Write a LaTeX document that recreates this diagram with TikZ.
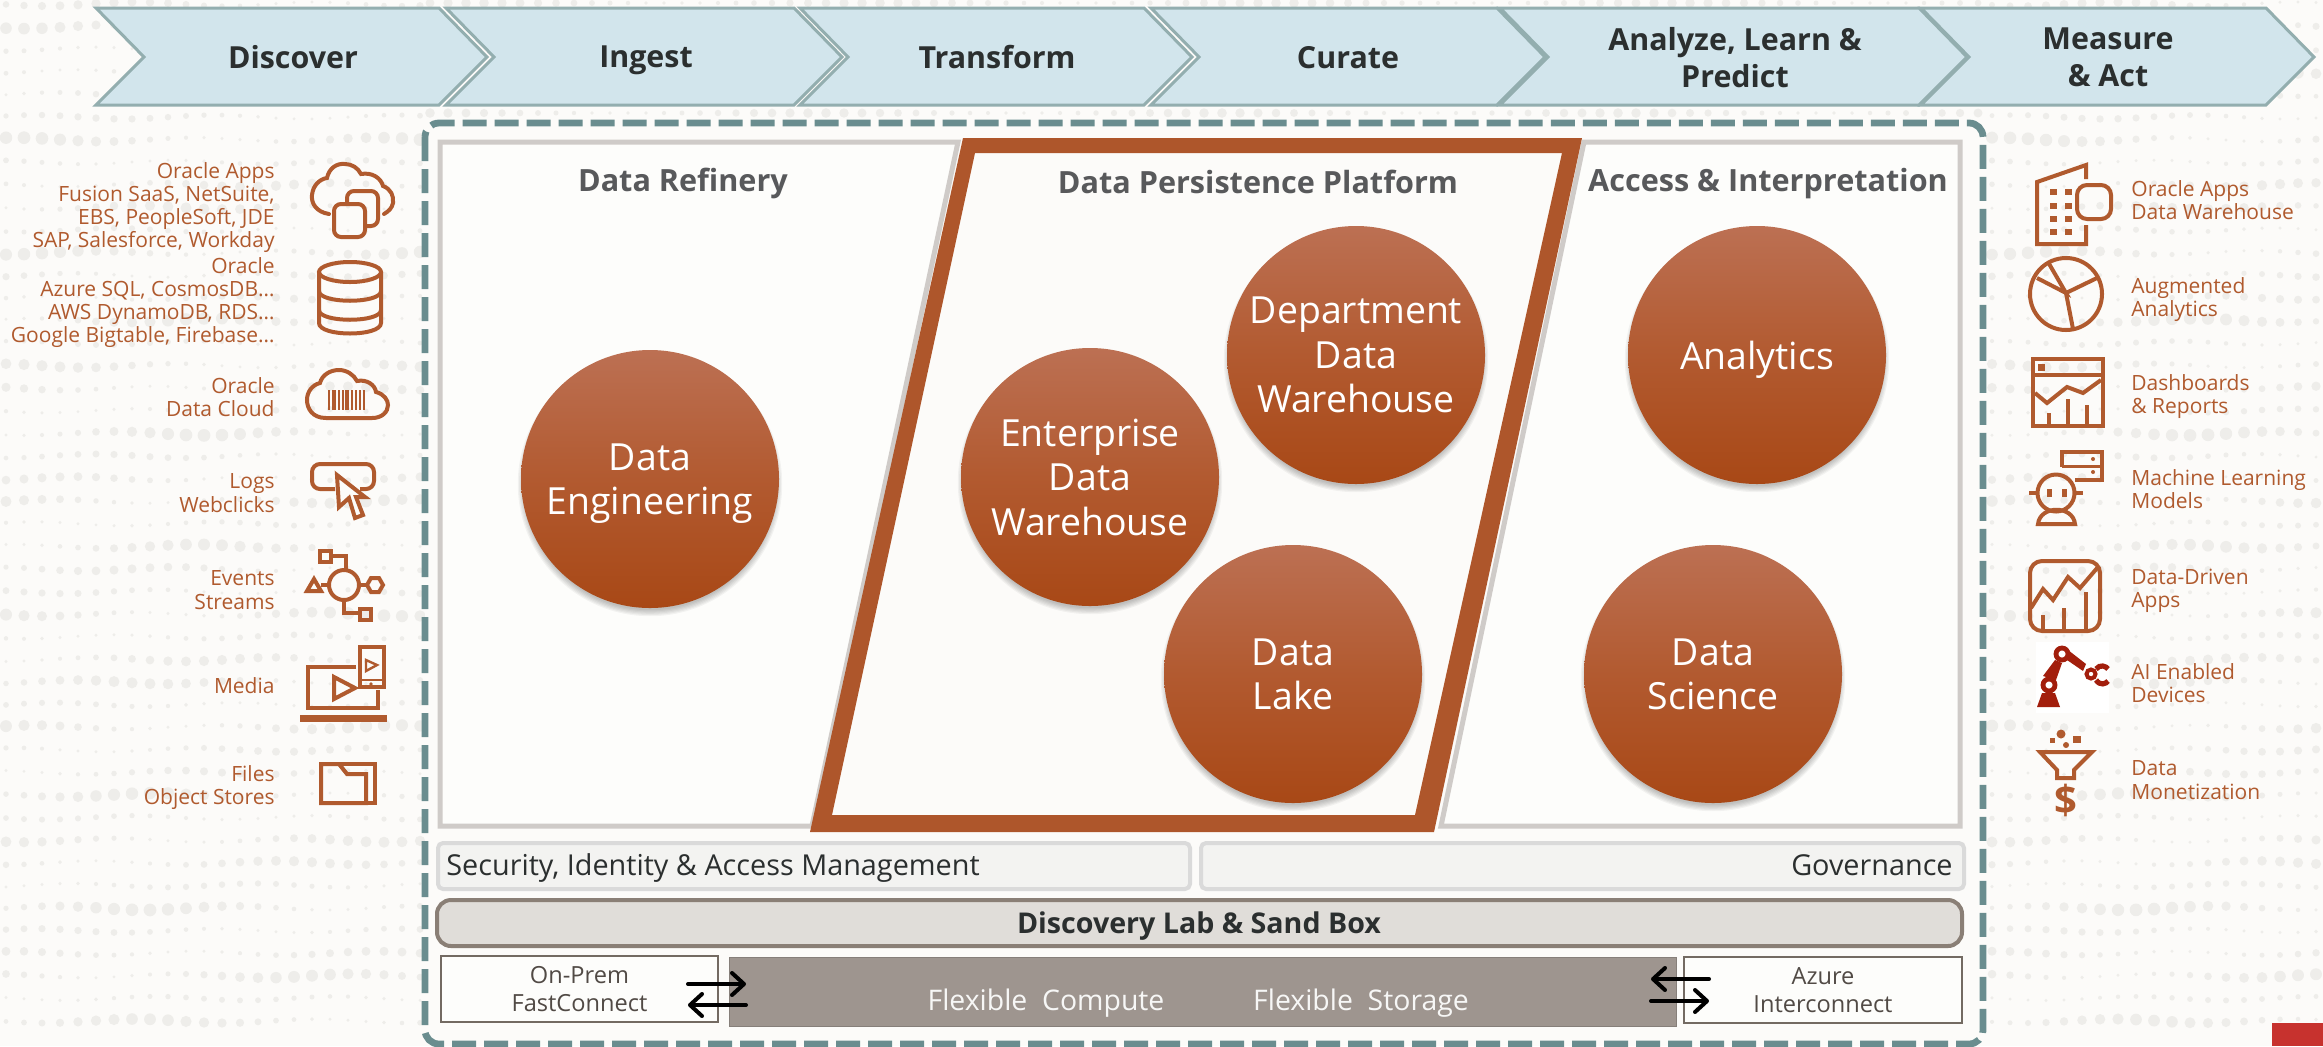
\documentclass[tikz,border=0pt]{standalone}
\usepackage{fontspec}
\setmainfont{Open Sans}
\usetikzlibrary{arrows.meta}
\definecolor{bgc}{HTML}{FCFBF9}
\definecolor{dotc}{HTML}{EEEDEA}
\definecolor{chevf}{HTML}{D2E5EC}
\definecolor{chevd}{HTML}{93AEAF}
\definecolor{inkd}{HTML}{2B2F2F}
\definecolor{teal}{HTML}{6A8D8F}
\definecolor{greyb}{HTML}{CFCBC8}
\definecolor{rust}{HTML}{AE562B}
\definecolor{titleg}{HTML}{58595B}
\definecolor{labelc}{HTML}{B05A2E}
\definecolor{barf}{HTML}{F3F3F1}
\definecolor{bard}{HTML}{DADADA}
\definecolor{labf}{HTML}{E0DDD9}
\definecolor{labd}{HTML}{8A7F76}
\definecolor{compf}{HTML}{9E958F}
\definecolor{boxd}{HTML}{736A62}
\definecolor{robot}{HTML}{A21E0C}
\definecolor{oracle}{HTML}{C7322E}
\definecolor{bb}{HTML}{BC7053}
\definecolor{bm}{HTML}{B25A30}
\definecolor{bc}{HTML}{A84816}
\newcommand{\fsz}[2]{\fontsize{#1}{#2}\selectfont}
\tikzset{
  chevron/.style={fill=chevf,draw=chevd,line width=1.5pt,line join=miter},
  chevtext/.style={font=\fsz{15.2}{18.5}\bfseries,text=inkd,align=center,inner sep=0pt,text depth=0pt},
  leftlabel/.style={font=\fsz{10.5}{11.6},text=labelc,align=right,anchor=east,inner sep=0pt,text depth=0pt},
  rightlabel/.style={font=\fsz{10.5}{11.6},text=labelc,align=left,anchor=west,inner sep=0pt,text depth=0pt},
  paneltitle/.style={font=\fsz{15.3}{17}\bfseries,text=titleg,inner sep=0pt,text depth=0pt},
  panel/.style={fill=white!40!bgc,draw=greyb,line width=2.5pt,line join=miter},
  ball/.style={circle,minimum size=129pt,inner sep=0pt,top color=bb,bottom color=bc,middle color=bm,
    text=white,align=center,font=\fsz{18.7}{22.2},text depth=0pt},
  barbox/.style={fill=barf,draw=bard,line width=2pt,rounded corners=2.5pt},
  bartext/.style={font=\fsz{14.4}{16},text=inkd,inner sep=0pt,text depth=0pt},
  linkbox/.style={fill=white!40!bgc,draw=boxd,line width=1.25pt,align=center,text=boxd!70!black,
    font=\fsz{11.8}{14},inner sep=0pt},
  flow/.style={line width=2pt,line cap=round,draw=black,-{Straight Barb[length=6pt,width=11pt,line width=2pt,round]}},
  ico/.style={draw=labelc,line width=2pt,line join=miter},
}
\newcommand{\ballat}[4]{%
  \foreach \i in {1,...,6}{\fill[black,opacity=.045] (#2,#3+5) circle[radius=125+\i*1.2];}
  \node[ball] (#1) at (#2,#3) {#4};}
\begin{document}
\begin{tikzpicture}[x=0.5pt,y=-0.5pt]
\useasboundingbox (0,0) rectangle (2323,1046);
\fill[bgc] (0,0) rectangle (2323,1046);
% background texture
\foreach \r in {0,...,45}{
  \pgfmathsetmacro\yy{4+22.6*\r}
  \pgfmathsetmacro\amp{1.4+1.7*(1+sin(\r*137))}
  \foreach \x in {6,24,...,420}{
    \pgfmathsetmacro\rad{1.6+\amp*(0.5+0.5*sin(\x*0.9+\r*71))}
    \pgfmathsetmacro\dy{\yy+2*sin(\x*2+\r*40)}
    \fill[dotc] (\x,\dy) circle[radius=\rad];
  }
  \foreach \x in {1992,2010,...,2322}{
    \pgfmathsetmacro\rad{1.6+\amp*(0.5+0.5*sin(\x*0.9+\r*71))}
    \pgfmathsetmacro\dy{\yy+2*sin(\x*2+\r*40)}
    \fill[dotc] (\x,\dy) circle[radius=\rad];
  }
}
\foreach \yy in {3,113}{
  \foreach \x in {430,448,...,1990}{
    \pgfmathsetmacro\rad{1.8+3*(0.5+0.5*sin(\x*0.9+\yy*7))}
    \fill[dotc] (\x,\yy) circle[radius=\rad];
  }
}
\fill[oracle] (2272,1023) rectangle (2323,1046);
% chevrons
\draw[chevron] (1921,8) -- (2266,8) -- (2314,57) -- (2266,105) -- (1921,105) -- (1969,57) -- cycle;
\draw[chevron] (1500,8) -- (1919,8) -- (1967,57) -- (1919,105) -- (1500,105) -- (1548,57) -- cycle;
\draw[chevron] (1151,8) -- (1497,8) -- (1545,57) -- (1497,105) -- (1151,105) -- (1199,57) -- cycle;
\draw[chevron] (800,8) -- (1144,8) -- (1192,57) -- (1144,105) -- (800,105) -- (848,57) -- cycle;
\draw[chevron] (446,8) -- (794,8) -- (842,57) -- (794,105) -- (446,105) -- (494,57) -- cycle;
\draw[chevron] (96,8) -- (439,8) -- (487,57) -- (439,105) -- (96,105) -- (144,57) -- cycle;
\node[chevtext] (cDiscover) at (293,57) {Discover};
\node[chevtext] (cIngest) at (646,57) {Ingest};
\node[chevtext] (cTransform) at (997,57) {Transform};
\node[chevtext] (cCurate) at (1348,57) {Curate};
\node[chevtext] (cAnalyze) at (1735,57) {Analyze, Learn \&\\Predict};
\node[chevtext] (cMeasure) at (2108,57) {Measure\\\& Act};
% dashed frame
\draw[fill=bgc,draw=teal,line width=3.4pt,rounded corners=7pt,dash pattern=on 12pt off 4pt]
  (425,123) rectangle (1983,1044);
% panels
\draw[panel] (440,142) -- (958,142) -- (812,826) -- (440,826) -- cycle;
\draw[panel] (1584,142) -- (1960,142) -- (1960,826) -- (1441,826) -- cycle;
\fill[rust,even odd rule] (963,138) -- (1582,138) -- (1434,832) -- (810,832) -- cycle
  (975,153) -- (1562,153) -- (1415,815) -- (832,815) -- cycle;
\node[paneltitle] (tRefinery) at (683,180) {Data Refinery};
\node[paneltitle] (tPersist) at (1258,182) {Data Persistence Platform};
\node[paneltitle] (tAccess) at (1768,180) {Access \& Interpretation};
% balls
\ballat{bEng}{650}{479}{Data\\Engineering}
\ballat{bDept}{1356}{355}{Department\\Data\\Warehouse}
\ballat{bEnt}{1090}{477}{Enterprise\\Data\\Warehouse}
\ballat{bLake}{1293}{674}{Data\\Lake}
\ballat{bAna}{1757}{355}{Analytics}
\ballat{bSci}{1713}{674}{Data\\Science}
% bars
\draw[barbox] (438,843) rectangle (1190,889);
\draw[barbox] (1201,843) rectangle (1964,889);
\node[bartext,anchor=west] (tSec) at (446,865) {Security, Identity \& Access Management};
\node[bartext,anchor=east] (tGov) at (1953,865) {Governance};
\draw[fill=labf,draw=labd,line width=2pt,rounded corners=7pt] (437,900) rectangle (1962,946);
\node[font=\fsz{14.3}{16}\bfseries,text=inkd,inner sep=0pt,text depth=0pt] (tLab) at (1199,923) {Discovery Lab \& Sand Box};
\node[fill=compf,draw=compf!85!black,line width=.5pt,minimum width=473.5pt,minimum height=34.5pt,inner sep=0pt] (compute) at (1202.5,991.5) {};
\node[font=\fsz{14.2}{16},text=white!92!compf,inner sep=0pt,text depth=0pt] (tComp) at (1046,1000) {Flexible\ \ Compute};
\node[font=\fsz{14.2}{16},text=white!92!compf,inner sep=0pt,text depth=0pt] (tStor) at (1361,1000) {Flexible\ \ Storage};
\node[linkbox,minimum width=138.5pt,minimum height=33pt] (onprem) at (579.5,989) {On-Prem\\FastConnect};
\node[linkbox,minimum width=139pt,minimum height=33pt] (azure) at (1823,990) {Azure\\Interconnect};
\coordinate (a1) at (688,984); \coordinate (a2) at (746,984);
\coordinate (a3) at (746,1005); \coordinate (a4) at (688,1005);
\coordinate (a5) at (1709,979); \coordinate (a6) at (1651,979);
\coordinate (a7) at (1651,1001); \coordinate (a8) at (1709,1001);
\draw[flow] (a1) -- (a2);
\draw[flow] (a3) -- (a4);
\draw[flow] (a5) -- (a6);
\draw[flow] (a7) -- (a8);
% left labels
\node[leftlabel] (l1) at (275,205) {Oracle Apps\\Fusion SaaS, NetSuite,\\EBS, PeopleSoft, JDE\\SAP, Salesforce, Workday};
\node[leftlabel] (l2) at (275,300) {Oracle\\Azure SQL, CosmosDB\dots\\AWS DynamoDB, RDS\dots\\Google Bigtable, Firebase\dots};
\node[leftlabel] (l3) at (275,397) {Oracle\\Data Cloud};
\node[leftlabel] (l4) at (275,493) {Logs\\Webclicks};
\node[leftlabel] (l5) at (275,590) {Events\\Streams};
\node[leftlabel] (l6) at (275,686) {Media};
\node[leftlabel] (l7) at (275,785) {Files\\Object Stores};
% right labels
\node[rightlabel] (r1) at (2131,200) {Oracle Apps\\Data Warehouse};
\node[rightlabel] (r2) at (2131,297) {Augmented\\Analytics};
\node[rightlabel] (r3) at (2131,394) {Dashboards\\\& Reports};
\node[rightlabel] (r4) at (2131,489) {Machine Learning\\Models};
\node[rightlabel] (r5) at (2131,588) {Data-Driven\\Apps};
\node[rightlabel] (r6) at (2131,683) {AI Enabled\\Devices};
\node[rightlabel] (r7) at (2131,780) {Data\\Monetization};
% icon: cloud with pages
\draw[ico,line cap=round] (329,214) .. controls (316,212) and (311,203) .. (312,195) .. controls (313,185) and (320,179) .. (327,178) .. controls (329,168) and (337,163) .. (345,164) .. controls (352,164) and (358,168) .. (361,174) .. controls (372,172) and (381,178) .. (383,186) .. controls (391,189) and (394,196) .. (393,203) .. controls (392,208) and (389,211) .. (384,214);
\draw[ico,rounded corners=3.5pt] (347,203) -- (347,191) -- (378,191) -- (378,226) -- (366,226);
\draw[ico,rounded corners=3.5pt,fill=none] (334,204) rectangle (365,237);
% icon: database
\draw[ico] (350,272) circle[x radius=31,y radius=10];
\draw[ico] (319,272) -- (319,323) .. controls (319,337) and (381,337) .. (381,323) -- (381,272);
\draw[ico] (319,291) .. controls (319,304) and (381,304) .. (381,291);
\draw[ico] (319,310) .. controls (319,323) and (381,323) .. (381,310);
% icon: cloud with barcode
\draw[ico] (326,418) .. controls (312,418) and (307,408) .. (307,400) .. controls (307,392) and (312,385) .. (320,383) .. controls (322,375) and (330,370) .. (339,370) .. controls (347,370) and (354,375) .. (357,381) .. controls (367,379) and (375,385) .. (376,392) .. controls (384,394) and (388,400) .. (388,405) .. controls (388,412) and (382,418) .. (372,418) -- cycle;
\foreach \bx/\bw in {329/1,334/2,339/.8,343/.8,347/1.6,352/.8,356/.8,360/1.2,364/1}{
  \draw[labelc,line width=\bw pt] (\bx,390) -- (\bx,410);}
% icon: screen with cursor
\draw[ico,rounded corners=4pt] (335,489) -- (312,489) -- (312,464) -- (374,464) -- (374,489) -- (360,489);
\draw[ico,fill=bgc] (337,475) -- (339,507) -- (349,498) -- (355,518) -- (363,515) -- (356,497) -- (365,497) -- cycle;
% icon: event hub
\draw[ico] (344,585) circle[radius=15];
\draw[ico] (320,551) rectangle (331,562);
\draw[ico] (331,556) -- (346,556) -- (346,570);
\draw[ico] (307,591) -- (321,591) -- (314,579) -- cycle;
\draw[ico] (321,585) -- (329,585);
\draw[ico] (359,585) -- (367,585);
\draw[ico] (367,585) -- (371,578) -- (379,578) -- (383,585) -- (379,592) -- (371,592) -- cycle;
\draw[ico] (344,600) -- (344,613) -- (360,613);
\draw[ico] (360,609) rectangle (371,620);
% icon: media
\draw[ico] (356,667) -- (308,667) -- (308,708) -- (378,708) -- (378,690);
\fill[labelc] (300,715) rectangle (387,722);
\draw[ico] (334,677) -- (355,688) -- (334,699) -- cycle;
\draw[ico] (360,647) rectangle (384,687);
\draw[labelc,line width=1pt] (360,680) -- (384,680);
\fill[labelc] (371,684) circle[radius=1.8];
\draw[labelc,line width=1.2pt] (366,660) -- (377,665) -- (366,671) -- cycle;
% icon: folder
\draw[ico] (321,764) -- (339,764) -- (347,774) -- (366,774) -- (366,803) -- (321,803) -- cycle;
\draw[ico] (339,764) -- (375,764) -- (375,803) -- (366,803);
% icon: building
\draw[ico] (2086,179) -- (2086,165) -- (2037,182) -- (2037,244) -- (2086,244) -- (2086,225);
\draw[ico,rounded corners=5pt] (2077,185) rectangle (2111,219);
\foreach \wy in {189,203,216,229}{
  \fill[labelc] (2050,\wy) rectangle (2057,\wy+6);
  \fill[labelc] (2065,\wy) rectangle (2072,\wy+6);}
% icon: pie
\draw[ico] (2066,294) circle[radius=36];
\draw[ico] (2037,278) -- (2066,293) -- (2048,262);
\draw[ico] (2097,278) -- (2066,293) -- (2073,329);
% icon: dashboard
\draw[ico] (2033,359) rectangle (2103,426);
\draw[ico] (2033,375) -- (2103,375);
\fill[labelc] (2038,364) rectangle (2045,371);
\draw[ico] (2035,393) -- (2047,403) -- (2067,387) -- (2083,393) -- (2101,380);
\draw[ico] (2049,413) -- (2049,426);
\draw[ico] (2068,399) -- (2068,426);
\draw[ico] (2087,405) -- (2087,426);
% icon: machine learning
\draw[ico] (2056,493) circle[radius=18.5];
\draw[ico] (2029,493) -- (2037,493);
\draw[ico] (2076,493) -- (2083,493);
\fill[labelc] (2047,489) rectangle (2052,497);
\fill[labelc] (2062,489) rectangle (2067,497);
\draw[ico] (2038,524) -- (2075,524) .. controls (2073,505) and (2040,505) .. (2038,524) -- cycle;
\draw[ico] (2062,467) -- (2062,452) -- (2102,452) -- (2102,480) -- (2075,480);
\draw[ico,line width=1.5pt] (2062,466) -- (2102,466);
\fill[labelc] (2093,459) circle[radius=2];
\fill[labelc] (2093,472) circle[radius=2];
% icon: data driven apps
\draw[ico,rounded corners=6pt] (2030,561) rectangle (2100,631);
\draw[ico] (2031,608) -- (2043,589) -- (2053,600) -- (2068,577) -- (2080,588) -- (2098,567);
\draw[ico] (2043,615) -- (2043,631);
\draw[ico] (2064,608) -- (2064,631);
\draw[ico] (2086,592) -- (2086,631);
% icon: robot arm
\fill[white] (2036,642) rectangle (2109,713);
\fill[robot] (2037,707) -- (2060,707) -- (2055,693) -- (2042,693) -- cycle;
\fill[robot] (2043,676) -- (2055,660) -- (2062,663) -- (2056,680) -- cycle;
\fill[robot] (2068,650) -- (2086,664) -- (2083,671) -- (2067,660) -- cycle;
\draw[robot,line width=2.4pt,fill=white] (2049,685) circle[radius=6];
\draw[robot,line width=2.4pt,fill=white] (2062,654) circle[radius=6];
\draw[robot,line width=2pt,fill=white] (2091,674) circle[radius=4.5];
\draw[robot,line width=2.6pt] (2096,669) .. controls (2100,664) and (2106,666) .. (2108,669);
\draw[robot,line width=2.6pt] (2096,680) .. controls (2100,686) and (2106,684) .. (2108,681);
% icon: funnel
\fill[labelc] (2061,734) circle[radius=4.5];
\fill[labelc] (2066,745) circle[radius=3];
\fill[labelc] (2050,738) rectangle (2055,743);
\fill[labelc] (2073,736) rectangle (2081,743);
\draw[ico] (2040,752) -- (2092,752) -- (2074,770) -- (2074,778) -- (2057,778) -- (2057,770) -- cycle;
\node[font=\fsz{20}{20}\bfseries,text=labelc,inner sep=0pt] (dollar) at (2066,800) {\$};
\end{tikzpicture}
\end{document}
